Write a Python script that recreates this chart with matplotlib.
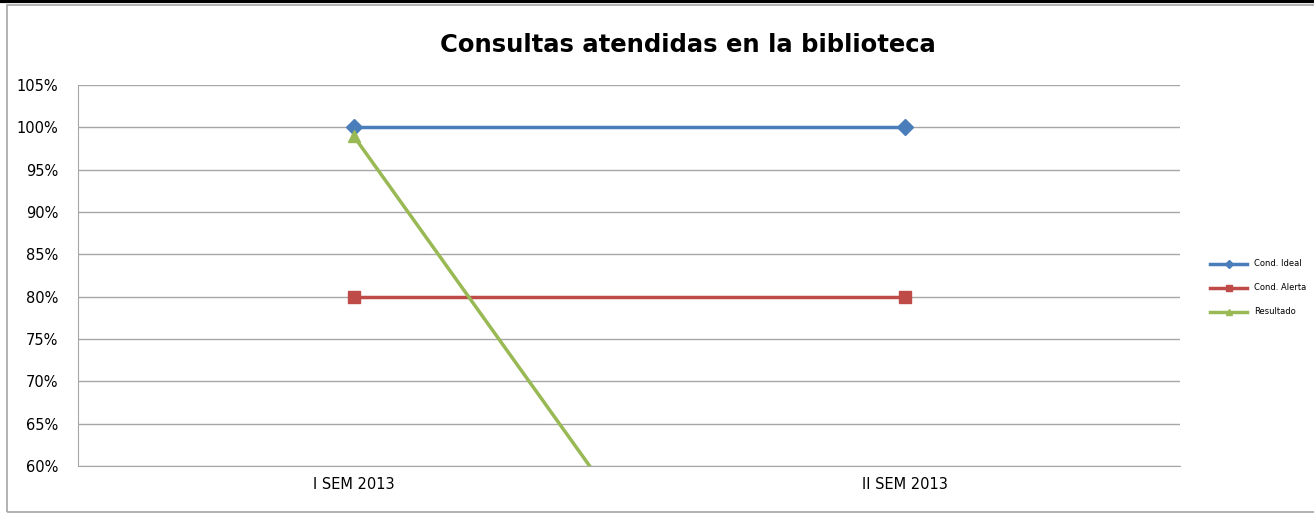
#!/usr/bin/env python
"""Consultas atendidas en la biblioteca - line chart."""
import matplotlib
matplotlib.use("Agg")
import matplotlib.pyplot as plt
from matplotlib.patches import Rectangle
from matplotlib.lines import Line2D
from matplotlib.ticker import FuncFormatter

categories = ["I SEM 2013", "II SEM 2013"]
cond_ideal = [1.00, 1.00]
cond_alerta = [0.80, 0.80]
resultado = [0.99, 0.08]

y_ticks = [0.60, 0.65, 0.70, 0.75, 0.80, 0.85, 0.90, 0.95, 1.00, 1.05]

W, H = 1314, 518
fig = plt.figure(figsize=(W / 100, H / 100), dpi=100)

# chart frame (excel-ish)
fig.add_artist(Rectangle((7 / W, 1 - 512 / H), 1.2, (512 - 5) / H,
                         transform=fig.transFigure, fill=False,
                         edgecolor="#a6a6a6", linewidth=1.2))
fig.add_artist(Line2D([0, 1], [1 - 1 / H, 1 - 1 / H], transform=fig.transFigure,
                      color="black", linewidth=3))

ax = fig.add_axes([78 / W, 1 - 466 / H, (1180 - 78) / W, (466 - 85) / H])
x = [0.5, 1.5]

ax.plot(x, cond_ideal, color="#4A7EBB", linewidth=2.5, marker="D",
        markersize=8, label="Cond. Ideal", zorder=3)
ax.plot(x, cond_alerta, color="#BE4B48", linewidth=2.5, marker="s",
        markersize=9, label="Cond. Alerta", zorder=3)
ax.plot(x, resultado, color="#98B954", linewidth=2.5, marker="^",
        markersize=9, label="Resultado", zorder=4)

ax.set_xlim(0, 2)
ax.set_ylim(0.60, 1.05)
ax.set_yticks(y_ticks)
ax.yaxis.set_major_formatter(FuncFormatter(lambda v, p: f"{v * 100:.0f}%"))
ax.set_xticks(x)
ax.set_xticklabels(categories)
ax.tick_params(axis="both", length=0, labelsize=10.5, pad=8)
ax.tick_params(axis="y", pad=14)
ax.grid(axis="y", color="#a6a6a6", linewidth=1)
ax.set_axisbelow(True)
for side in ["top", "right"]:
    ax.spines[side].set_visible(False)
for side in ["left", "bottom"]:
    ax.spines[side].set_color("#a6a6a6")

fig.text(688 / W, 1 - 45 / H, "Consultas atendidas en la biblioteca",
         ha="center", va="center", fontsize=17.5, fontweight="bold")

ax.legend(loc="center left", bbox_to_anchor=(1180 / W + 0.017, 1 - 288 / H),
          bbox_transform=fig.transFigure, frameon=False, fontsize=6,
          handlelength=4.5, labelspacing=1.8, markerscale=0.5)

fig.savefig("out.png", dpi=100)
